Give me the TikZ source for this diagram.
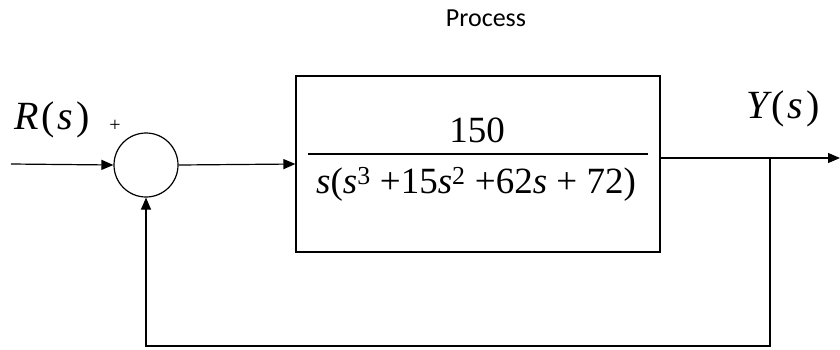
\documentclass[tikz,border=0pt]{standalone}
\usepackage{fontspec}
\setmainfont{Liberation Serif}
\newfontfamily\procfont{Carlito}
\usetikzlibrary{arrows.meta}
\newcommand{\gp}{\hspace{3pt}}
\begin{document}
\begin{tikzpicture}[x=1pt,y=-1pt,
  wire/.style={line width=1.2pt},
  arr/.style={wire,-{Triangle[length=12pt,width=10pt]}},
  bigtxt/.style={font=\fontsize{40}{46}\selectfont, inner sep=0},
  fractxt/.style={font=\fontsize{37}{44}\selectfont, inner sep=0}]
\useasboundingbox (0,0) rectangle (840,349);
\node[circle,draw,wire,minimum size=64pt,inner sep=0] (sum) at (146,165) {};
\node[draw,wire,minimum width=364pt,minimum height=176pt,inner sep=0] (plant) at (478,164) {};
\coordinate (in) at (11,164);
\coordinate (out) at (840,158);
\coordinate (br) at (770,158);
\coordinate (fb) at (770,346);
\node[fractxt] (num) at (477,130) {150};
\node[fractxt] (den) at (476,184) {{\itshape s}({\itshape s}\textsuperscript{3} +15{\itshape s}\textsuperscript{2} +62{\itshape s} + 72)};
\coordinate (barl) at (308,154);
\coordinate (barr) at (648,154);
\draw[wire] (barl) -- (barr);
\node[bigtxt] (R) at (52,120) {{\itshape R}\gp(\gp{\itshape s}\gp)};
\node[font=\fontsize{20}{20}\selectfont, inner sep=0] (plus) at (115,126) {+};
\node[bigtxt] (Y) at (783,109) {{\itshape Y}\gp(\gp{\itshape s}\gp)};
\node[font=\procfont\fontsize{26}{30}\selectfont, inner sep=0] (proc) at (486,18) {Process};
\draw[arr] (in) -- (sum.west);
\draw[arr] (sum.east) -- (plant.west);
\draw[arr] (plant.east |- out) -- (out);
\draw[arr] (br) -- (fb) -- (fb -| sum) -- (sum.south);
\end{tikzpicture}
\end{document}
